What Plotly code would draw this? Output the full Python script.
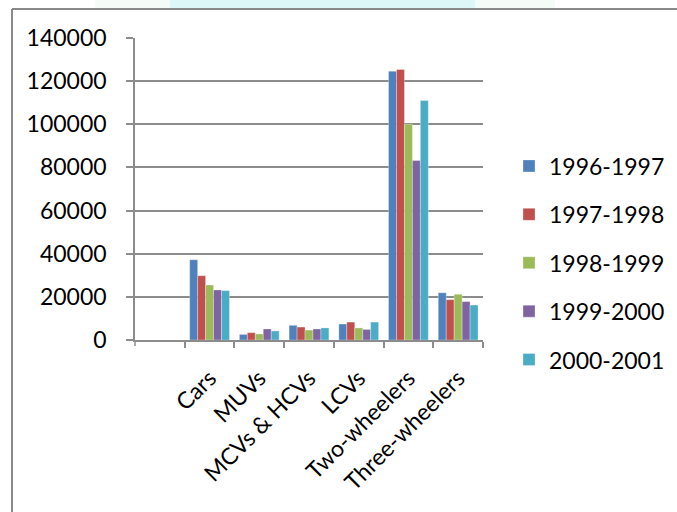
import plotly.graph_objects as go

# Vehicle categories and yearly production figures
categories = ["Cars", "MUVs", "MCVs & HCVs", "LCVs", "Two-wheelers", "Three-wheelers"]
years = ["1996-1997", "1997-1998", "1998-1999", "1999-2000", "2000-2001"]
v_1996_97 = [37200, 2600, 6800, 7400, 124600, 21900]
v_1997_98 = [29800, 3400, 6000, 8300, 125400, 18700]
v_1998_99 = [25500, 2800, 4600, 5600, 100000, 21200]
v_1999_00 = [23200, 5100, 5100, 4900, 83200, 17800]
v_2000_01 = [22900, 4200, 5600, 8300, 111000, 16200]
series = [v_1996_97, v_1997_98, v_1998_99, v_1999_00, v_2000_01]
colors = ["#4F81BD", "#C0504D", "#9BBB59", "#8064A2", "#4BACC6"]
y_ticks = [0, 20000, 40000, 60000, 80000, 100000, 120000, 140000]

FONT = "Lato"
FSIZE = 23
AXIS_GREY = "#8c8c8c"

W, H = 677, 512
L, R, T, B = 135, 194, 38, 172
PW, PH = W - L - R, H - T - B


def px_x(x):
    """Pixel column -> paper x."""
    return (x - L) / PW


def px_y(y):
    """Pixel row (from top) -> paper y."""
    return (H - B - y) / PH


fig = go.Figure()
for name, vals, col in zip(years, series, colors):
    fig.add_trace(go.Bar(
        x=categories, y=vals, name=name, legendgroup=name,
        marker=dict(color=col, line=dict(color="rgba(255,255,255,0.6)", width=0.5)),
    ))

fig.update_layout(
    width=W, height=H,
    margin=dict(l=L, r=R, t=T, b=B, autoexpand=False),
    paper_bgcolor="white", plot_bgcolor="white",
    barmode="group", bargap=0.2, bargroupgap=0,
    font=dict(family=FONT, size=FSIZE, color="black"),
    showlegend=True,
    legend=dict(
        xref="container", yref="container",
        x=509 / W, xanchor="left", y=(H - 263) / H, yanchor="middle",
        font=dict(family=FONT, size=FSIZE, color="black"),
        traceorder="grouped", tracegroupgap=15.5,
        bgcolor="rgba(0,0,0,0)",
    ),
    xaxis=dict(
        type="category", range=[-1.5, 5.5],
        showline=True, linecolor=AXIS_GREY, linewidth=1.5,
        ticks="outside", tickson="boundaries", ticklen=6, tickwidth=1.5, tickcolor=AXIS_GREY,
        tickangle=-45, showgrid=False, zeroline=False,
        ticklabelstandoff=14,
        tickfont=dict(family=FONT, size=FSIZE, color="black"),
    ),
    yaxis=dict(
        range=[0, 140000], tickvals=y_ticks, ticktext=[str(t) for t in y_ticks],
        showline=True, linecolor=AXIS_GREY, linewidth=1.5,
        ticks="outside", ticklen=7, tickwidth=1.5, tickcolor=AXIS_GREY,
        showgrid=True, gridcolor=AXIS_GREY, gridwidth=1.5, zeroline=False,
        ticklabelstandoff=15,
        tickfont=dict(family=FONT, size=FSIZE, color="black"),
    ),
    shapes=[
        # extra tick below the axis origin
        dict(type="line", xref="x domain", yref="y domain", x0=0, x1=0, y0=0, y1=-6 / PH,
             line=dict(color=AXIS_GREY, width=1.5)),
        # pale banner strip along the top edge
        dict(type="rect", xref="paper", yref="paper", x0=px_x(95), x1=px_x(555),
             y0=px_y(9), y1=px_y(0), line_width=0, fillcolor="#f5fbf6", layer="below"),
        dict(type="rect", xref="paper", yref="paper", x0=px_x(170), x1=px_x(475),
             y0=px_y(9), y1=px_y(0), line_width=0, fillcolor="#ddf6f8", layer="below"),
        # chart frame (top and left edges)
        dict(type="line", xref="paper", yref="paper", x0=px_x(12), x1=px_x(W),
             y0=px_y(9), y1=px_y(9), line=dict(color="#8a8a8a", width=2)),
        dict(type="line", xref="paper", yref="paper", x0=px_x(12), x1=px_x(12),
             y0=px_y(9), y1=px_y(H), line=dict(color="#8a8a8a", width=2)),
    ],
)

fig.write_html("out.html")
